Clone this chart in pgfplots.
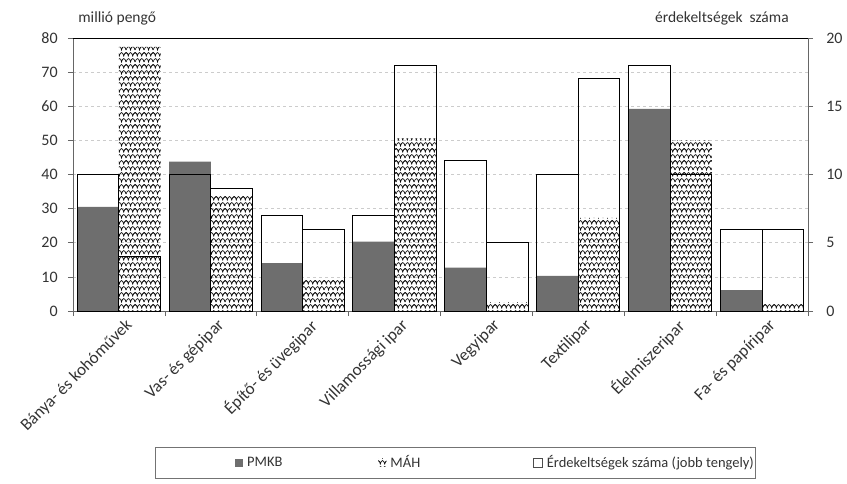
\documentclass[border=0pt]{standalone}
\usepackage{pgfplots}
\pgfplotsset{compat=1.18}
\usepackage{fontspec}
\setmainfont{Carlito}
\usetikzlibrary{patterns}
\definecolor{txt}{HTML}{333333}
\definecolor{pmkb}{HTML}{6E6E6E}
\pgfdeclarepatternformonly{waves}{\pgfqpoint{-1pt}{-1pt}}{\pgfqpoint{10pt}{13pt}}{\pgfqpoint{9pt}{12pt}}{%
  \pgfsetlinewidth{0.65pt}
  \pgfpathmoveto{\pgfqpoint{0pt}{1pt}}
  \pgfpathcurveto{\pgfqpoint{1.5pt}{5.5pt}}{\pgfqpoint{4pt}{5.5pt}}{\pgfqpoint{4.5pt}{1pt}}
  \pgfpathcurveto{\pgfqpoint{5.5pt}{5.5pt}}{\pgfqpoint{8pt}{5.5pt}}{\pgfqpoint{9pt}{1pt}}
  \pgfpathmoveto{\pgfqpoint{-2.25pt}{7pt}}
  \pgfpathcurveto{\pgfqpoint{-0.75pt}{11.5pt}}{\pgfqpoint{1.75pt}{11.5pt}}{\pgfqpoint{2.25pt}{7pt}}
  \pgfpathcurveto{\pgfqpoint{3.25pt}{11.5pt}}{\pgfqpoint{5.75pt}{11.5pt}}{\pgfqpoint{6.75pt}{7pt}}
  \pgfpathcurveto{\pgfqpoint{7.75pt}{11.5pt}}{\pgfqpoint{10.25pt}{11.5pt}}{\pgfqpoint{11.25pt}{7pt}}
  \pgfusepath{stroke}}
\pgfplotstableread{
x pmkb mah cp cm
0 30.5 77.4 10 4
1 43.8 33.8 10 9
2 14.0 9.2 7 6
3 20.3 50.6 7 18
4 12.7 2.6 11 5
5 10.3 27.3 10 17
6 59.2 50.1 18 10
7 6.1 2.2 6 6
}\data
\begin{document}
\fontsize{15.5}{18}\selectfont
\begin{tikzpicture}
\useasboundingbox (-73pt,-172pt) rectangle (774pt,311pt);
\begin{axis}[
  scale only axis, width=735pt, height=273pt,
  anchor=south west, at={(0pt,0pt)},
  xmin=-0.5, xmax=7.5, ymin=0, ymax=80,
  axis y line*=left, axis x line*=bottom,
  axis line style={draw=black!60, line width=0.7pt},
  ytick={0,10,...,80},
  tick style={draw=black!60, line width=0.7pt},
  tick align=outside, major tick length=5pt,
  yticklabel style={font=\fontsize{16}{18}\selectfont, text=txt, xshift=-5pt},
  xtick={0,...,7},
  major x tick style={draw=none},
  minor xtick={-0.5,0.5,...,7.5},
  minor tick length=5pt,
  minor x tick style={draw=black!60, line width=0.7pt},
  xticklabels={Bánya- és kohóművek, Vas- és gépipar, Építő- és üvegipar, Villamossági ipar, Vegyipar, Textilipar, Élelmiszeripar, Fa- és papíripar},
  xticklabel style={rotate=45, anchor=north east, font=\fontsize{17}{19}\selectfont, text=txt, inner sep=1pt, xshift=4pt, yshift=-4pt},
  ymajorgrids, grid style={dashed, draw=black!20, line width=0.6pt},
  /pgf/number format/assume math mode=true,
  clip=false,
  legend style={at={(0.2163,-0.555)}, anchor=west, draw=none, fill=none,
    legend columns=3, font=\fontsize{14.5}{17}\selectfont, text=txt,
    /tikz/every odd column/.append style={column sep=2pt}},
  legend cell align=left,
]
\addplot[ybar, bar width=0.4535, bar shift=-0.22675, fill=pmkb, draw=none,
  legend image code/.code={\fill[pmkb] (0pt,-4pt) rectangle (8pt,4pt);}]
  table[x=x, y=pmkb] {\data};
\addlegendentry{PMKB\hspace*{94pt}}
\addplot[ybar, bar width=0.4535, bar shift=0.22675, pattern=waves, draw=none,
  legend image code/.code={\fill[pattern=waves] (0pt,-4pt) rectangle (8pt,4pt);}]
  table[x=x, y=mah] {\data};
\addlegendentry{MÁH\hspace*{111pt}}
\addlegendimage{legend image code/.code={\draw[black!70, line width=0.6pt, fill=white] (0pt,-4.5pt) rectangle (9pt,4.5pt);}}
\addlegendentry{Érdekeltségek száma (jobb tengely)}
\draw[black, line width=0.9pt] (rel axis cs:0,1) -- (rel axis cs:1,1);
\node[anchor=west, text=txt, font=\fontsize{15.5}{18}\selectfont] at ([yshift=20pt]rel axis cs:0,1) {millió pengő};
\node[anchor=east, text=txt, font=\fontsize{15.5}{18}\selectfont] at ([yshift=20pt]rel axis cs:0.981,1) {érdekeltségek\ \ száma};
\draw[black!55, line width=0.8pt] (axis description cs:0.1116,-0.498) rectangle (axis description cs:0.9279,-0.612);
\end{axis}
\begin{axis}[
  scale only axis, width=735pt, height=273pt,
  anchor=south west, at={(0pt,0pt)},
  xmin=-0.5, xmax=7.5, ymin=0, ymax=20,
  axis y line*=right, axis x line=none,
  axis line style={draw=black!60, line width=0.7pt},
  ytick={0,5,...,20},
  tick style={draw=black!60, line width=0.7pt},
  tick align=outside, major tick length=5pt,
  yticklabel style={font=\fontsize{16}{18}\selectfont, text=txt, xshift=8pt},
  /pgf/number format/assume math mode=true,
]
\addplot[ybar, bar width=0.4535, bar shift=-0.22675, draw=black, fill=none, line width=1pt]
  table[x=x, y=cp] {\data};
\addplot[ybar, bar width=0.4535, bar shift=0.22675, draw=black, fill=none, line width=1pt]
  table[x=x, y=cm] {\data};
\end{axis}
\end{tikzpicture}
\end{document}
